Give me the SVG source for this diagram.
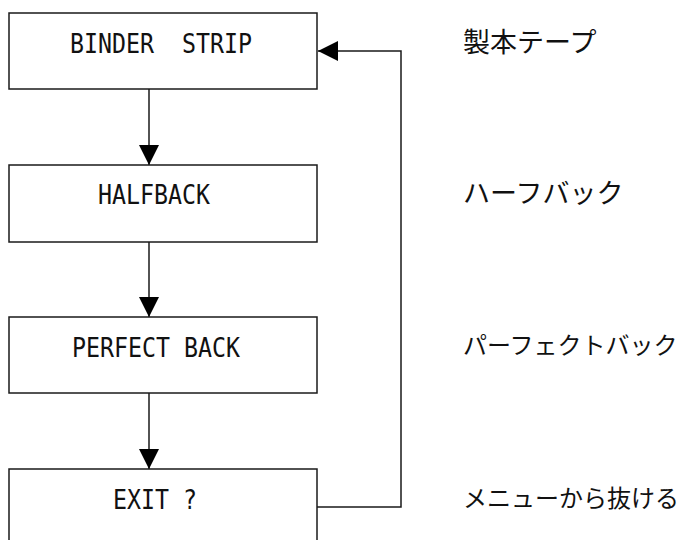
<svg xmlns="http://www.w3.org/2000/svg" width="680" height="540" viewBox="0 0 680 540">
  <style>
    .box { fill: #ffffff; stroke: #1a1a1a; stroke-width: 1.5; }
    .lbl { font-family: "DejaVu Sans Mono", "Liberation Mono", monospace; font-size: 27px; fill: #111; white-space: pre; }
    .jp { font-family: "Noto Sans CJK JP", "Noto Sans", sans-serif; fill: #111; }
    .conn { fill: none; stroke: #1a1a1a; stroke-width: 1.5; }
  </style>
  <defs>
    <marker id="arrow" markerUnits="userSpaceOnUse" markerWidth="20" markerHeight="20" refX="20" refY="10" orient="auto" viewBox="0 0 20 20">
      <path d="M0,0 L20,10 L0,20 Z" fill="#000"/>
    </marker>
  </defs>
  <rect width="680" height="540" fill="#ffffff"/>

  <g id="connectors">
    <line class="conn" x1="149" y1="89" x2="149" y2="165" marker-end="url(#arrow)"/>
    <line class="conn" x1="149" y1="242" x2="149" y2="317" marker-end="url(#arrow)"/>
    <line class="conn" x1="149" y1="393" x2="149" y2="469" marker-end="url(#arrow)"/>
    <polyline class="conn" points="317,507 401,507 401,51 318,51" marker-end="url(#arrow)"/>
  </g>

  <g id="binder-strip">
    <rect class="box" x="9" y="13" width="308" height="76"/>
    <text class="lbl" x="70" y="53" textLength="182" lengthAdjust="spacingAndGlyphs" xml:space="preserve">BINDER  STRIP</text>
  </g>
  <g id="halfback">
    <rect class="box" x="9" y="165" width="308" height="77"/>
    <text class="lbl" x="98" y="204" textLength="112" lengthAdjust="spacingAndGlyphs">HALFBACK</text>
  </g>
  <g id="perfect-back">
    <rect class="box" x="9" y="317" width="308" height="76"/>
    <text class="lbl" x="72" y="357" textLength="168" lengthAdjust="spacingAndGlyphs">PERFECT BACK</text>
  </g>
  <g id="exit">
    <rect class="box" x="9" y="469" width="308" height="80"/>
    <text class="lbl" x="113" y="509" textLength="84" lengthAdjust="spacingAndGlyphs">EXIT ?</text>
  </g>

  <g id="jp-labels">
    <text class="jp" x="463" y="52" font-size="27">製本テープ</text>
    <text class="jp" x="463" y="203" font-size="27">ハーフバック</text>
    <text class="jp" x="463" y="354" font-size="24">パーフェクトバック</text>
    <text class="jp" x="463" y="507" font-size="24">メニューから抜ける</text>
  </g>
</svg>
